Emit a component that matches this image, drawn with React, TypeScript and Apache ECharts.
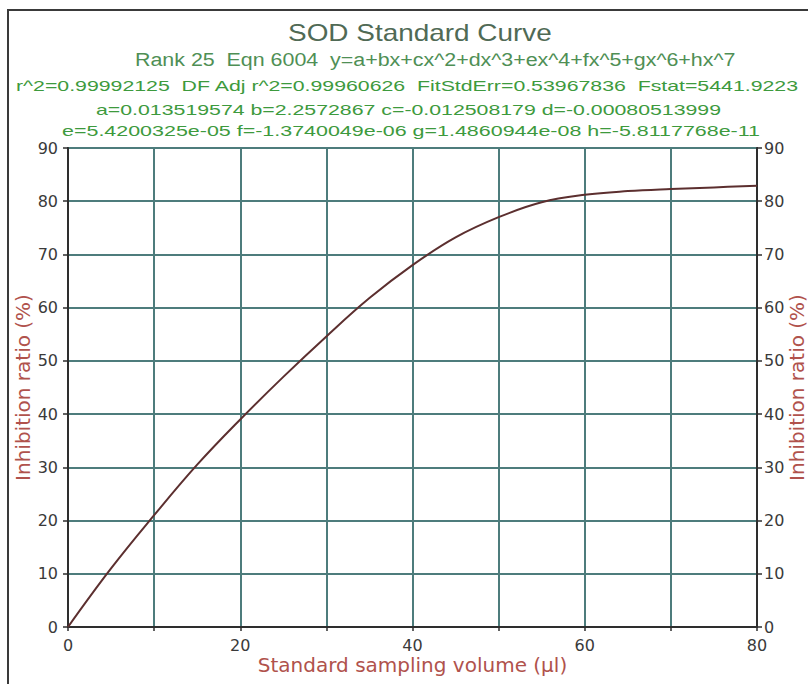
import React, { useEffect, useRef } from "react";
import * as echarts from "echarts";

const titleText = "SOD Standard Curve";
const headerLines = [
  "Rank 25  Eqn 6004  y=a+bx+cx^2+dx^3+ex^4+fx^5+gx^6+hx^7",
  "r^2=0.99992125  DF Adj r^2=0.99960626  FitStdErr=0.53967836  Fstat=5441.9223",
  "a=0.013519574 b=2.2572867 c=-0.012508179 d=-0.00080513999",
  "e=5.4200325e-05 f=-1.3740049e-06 g=1.4860944e-08 h=-5.8117768e-11",
];
const xAxisName = "Standard sampling volume (µl)";
const yAxisName = "Inhibition ratio (%)";

// curve
const volume = [0, 5, 10, 15, 20, 25, 30, 35, 40, 45, 50, 55, 60, 65, 70, 75, 80];
const inhibition = [0, 11, 21, 30.5, 39, 47, 54.6, 61.8, 68.0, 73.2, 77.0, 79.8, 81.2, 81.9, 82.3, 82.6, 82.9];

// layout of the header texts (left edge, right edge, vertical centre, font size, colour)
const headerLayout = [
  { left: 288, right: 552, y: 33, size: 24, color: "#506a55" },
  { left: 135, right: 736, y: 60, size: 18, color: "#4f8f55" },
  { left: 16, right: 800, y: 86, size: 15, color: "#3d9a3d" },
  { left: 96, right: 722, y: 110, size: 15, color: "#3d9a3d" },
  { left: 62, right: 760, y: 131, size: 14, color: "#3d9a3d" },
];

const HEAD_FONT = '"Liberation Sans", Arial, sans-serif';

function measure(text: string, size: number): number {
  const ctx = document.createElement("canvas").getContext("2d");
  if (!ctx) return text.length * size * 0.55;
  ctx.font = `${size}px ${HEAD_FONT}`;
  return ctx.measureText(text).width;
}

export default function App() {
  const ref = useRef<HTMLDivElement>(null);

  useEffect(() => {
    if (!ref.current) return;
    const chart = echarts.init(ref.current, undefined, { renderer: "svg" });

    const texts = [titleText, ...headerLines];
    const headerGraphics = texts.map((t, i) => {
      const L = headerLayout[i];
      const w = measure(t, L.size);
      return {
        type: "text",
        x: L.left,
        y: L.y,
        scaleX: (L.right - L.left) / w,
        style: {
          text: t,
          font: `${L.size}px ${HEAD_FONT}`,
          fill: L.color,
          textAlign: "left",
          textVerticalAlign: "middle",
        },
      };
    });

    const axisColor = "#2e2e2e";
    const labelStyle = {
      color: "#3a3a3a",
      fontFamily: "DejaVu Sans",
      fontSize: 16,
    };
    const nameStyle = {
      color: "#b0524c",
      fontFamily: "DejaVu Sans",
      fontSize: 20,
    };

    const yAxisBase = {
      type: "value",
      min: 0,
      max: 90,
      interval: 10,
      name: yAxisName,
      nameLocation: "middle",
      nameRotate: 90,
      nameMoveOverlap: false,
      nameTextStyle: nameStyle,
      axisLine: { show: true, lineStyle: { color: axisColor, width: 2 } },
      axisTick: { show: true, length: 5, lineStyle: { color: axisColor, width: 1.5 } },
    };

    chart.setOption({
      animation: false,
      backgroundColor: "#ffffff",
      grid: {
        left: 68,
        right: 51,
        top: 148,
        bottom: 57,
        containLabel: false,
        outerBoundsMode: "none",
        show: true,
        borderColor: axisColor,
        borderWidth: 2,
        backgroundColor: "#ffffff",
      },
      graphic: [
        {
          type: "rect",
          shape: { x: 8, y: 10, width: 900, height: 800 },
          style: { fill: "none", stroke: "#3a3a3a", lineWidth: 2 },
        },
        ...headerGraphics,
      ],
      xAxis: {
        type: "value",
        min: 0,
        max: 80,
        interval: 10,
        name: xAxisName,
        nameLocation: "middle",
        nameGap: 28,
        nameMoveOverlap: false,
        nameTextStyle: nameStyle,
        axisLine: { show: true, onZero: false, lineStyle: { color: axisColor, width: 2 } },
        axisTick: { show: true, length: 4, lineStyle: { color: axisColor, width: 1.5 } },
        axisLabel: {
          ...labelStyle,
          margin: 10,
          formatter: (v: number) => (v % 20 === 0 ? String(v) : ""),
        },
        splitLine: { show: true, lineStyle: { color: "#4d7c7c", width: 2 } },
      },
      yAxis: [
        {
          ...yAxisBase,
          position: "left",
          nameGap: 35,
          axisLabel: { ...labelStyle, margin: 10 },
          splitLine: { show: true, lineStyle: { color: "#4d7c7c", width: 2 } },
        },
        {
          ...yAxisBase,
          position: "right",
          nameGap: 30,
          axisLabel: { ...labelStyle, margin: 7 },
          splitLine: { show: false },
        },
      ],
      series: [
        {
          type: "line",
          data: volume.map((v, i) => [v, inhibition[i]]),
          smooth: 0.4,
          showSymbol: false,
          symbol: "none",
          lineStyle: { color: "#5c2f2f", width: 2 },
          z: 5,
        },
      ],
    });

    return () => chart.dispose();
  }, []);

  return (
    <div
      ref={ref}
      style={{ position: "absolute", left: 0, top: 0, width: 808, height: 684 }}
    />
  );
}
